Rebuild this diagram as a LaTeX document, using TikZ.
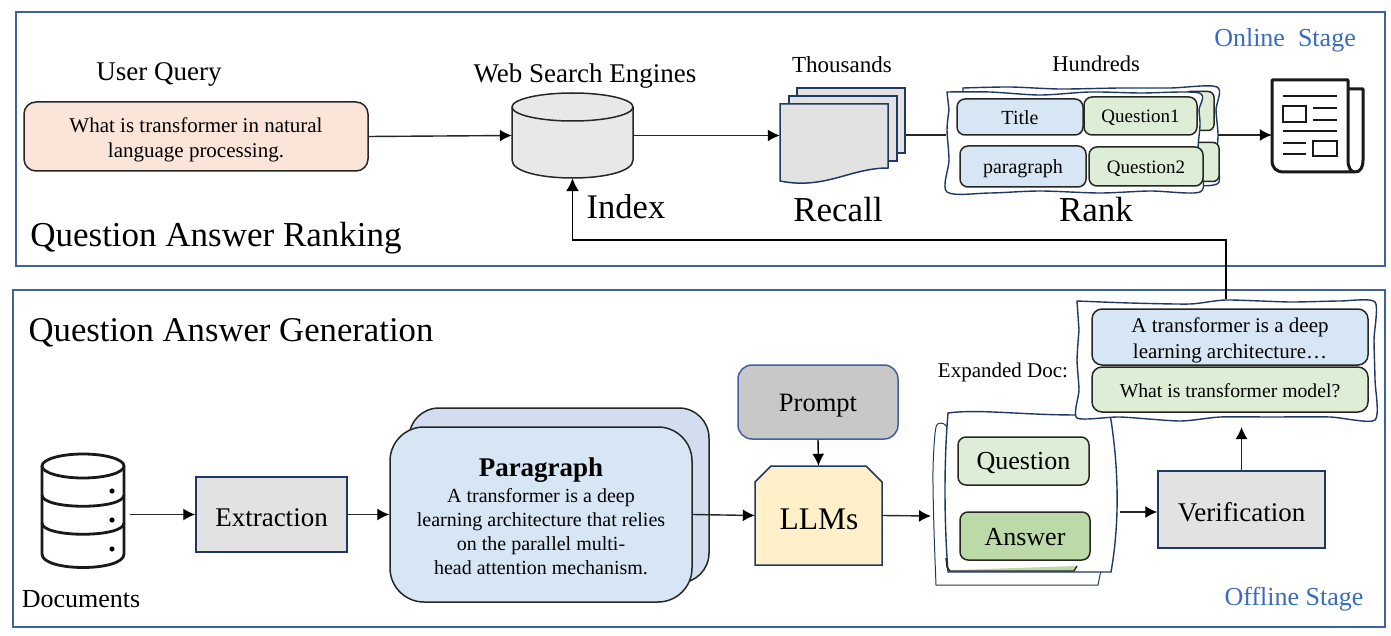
\documentclass[tikz,border=0pt]{standalone}
\usepackage{fontspec}
\setmainfont{Liberation Serif}
\usetikzlibrary{arrows.meta}
\definecolor{frameblue}{HTML}{3F619F}
\definecolor{navy}{HTML}{1F3864}
\definecolor{stagetxt}{HTML}{3A6BBF}
\definecolor{lblue}{HTML}{D7E6F4}
\definecolor{lgreen}{HTML}{DEEDD5}
\definecolor{mgreen}{HTML}{BBDAA8}
\definecolor{lgray}{HTML}{E2E2E2}
\definecolor{mgray}{HTML}{C8C8C8}
\definecolor{peach}{HTML}{FBE4D8}
\definecolor{lyellow}{HTML}{FFF0C9}
\definecolor{backblue}{HTML}{D2DEEF}
\newcommand{\dn}[2][2.2pt]{\raisebox{-#1}[\height][\depth]{#2}}
\tikzset{
  fs/.style={font=\fontsize{#1}{#1}\selectfont\setlength{\baselineskip}{1.18\baselineskip}},
  lab/.style={inner sep=0pt,align=center,text=black},
  rb/.style={rounded corners=#1,draw=black!85,line width=1.5pt},
  bx/.style args={#1x#2}{minimum width=#1pt,minimum height=#2pt,inner sep=0pt,align=center},
  frame/.style={draw=frameblue,line width=1.5pt},
  sq/.style={draw=navy,line width=1.5pt,fill=lgray},
  wob/.style={draw=navy,line width=1.4pt,fill=white},
  arr/.style={draw=black!85,line width=1.4pt,-{Latex[length=12pt,width=12pt,black]}},
  ic/.style={draw=black!90,line width=2.6pt},
}
\begin{document}
\begin{tikzpicture}[x=1pt,y=-1pt]
\useasboundingbox (0,0) rectangle (1391,636);
\fill[white] (0,0) rectangle (1391,636);
% frames
\node[frame,bx=1369x254] (top) at (700.5,139) {};
\node[frame,bx=1372x337] (bottom) at (699,458.5) {};
\node[lab,fs=26,text=stagetxt] (online) at (1285,40) {Online\ \ Stage};
\node[lab,fs=26,text=stagetxt] (offline) at (1294,599) {Offline Stage};
\node[lab,fs=35] (qar) at (216,238) {Question Answer Ranking};
\node[lab,fs=34.7] (qag) at (231,333) {Question Answer Generation};
% query
\node[lab,fs=27] (uq) at (159,74) {User Query};
\node[bx=344x69,rb=12pt,fill=peach] (query) at (196,136.5) {};
\node[lab,fs=21] (querytxt) at (196,140) {What is transformer in natural\\language processing.};
% search
\node[lab,fs=27] (wse) at (585,76) {Web Search Engines};
\node[bx=121x85] (cyl) at (572.5,135.5) {};
\draw[fill=lgray!80!white,draw=black!85,line width=1.5pt] (512,107) -- (512,160) .. controls (512,184) and (633,184) .. (633,160) -- (633,107);
\draw[fill=lgray!80!white,draw=black!85,line width=1.5pt] (572.5,107) ellipse[x radius=60.5,y radius=14];
\node[lab,fs=34.5] (index) at (626,207) {Index};
% recall
\node[lab,fs=23] (thou) at (842,65) {Thousands};
\node[lab,fs=35] (recall) at (838,210) {Recall};
\node[sq,bx=108x65] (d3) at (851,120.5) {};
\node[sq,bx=108x65] (d2) at (843,128.5) {};
\node[bx=108x80] (d1) at (834,135.5) {};
\draw[sq] (780,104) -- (888,104) -- (888,168) .. controls (850,168) and (825,190) .. (780,181) -- cycle;
% rank
\node[lab,fs=22.5] (hund) at (1096,64) {Hundreds};
\node[lab,fs=35] (rank) at (1096,210) {Rank};
\draw[wob] plot[smooth,tension=.5] coordinates {(963,88) (1010,87) (1060,89) (1120,88) (1170,88) (1217,87) (1216,110) (1218,135) (1216,160) (1217,184) (1170,185) (1100,186) (1020,185) (963,185)} -- cycle;
\node[bx=30x39,rb=6pt,fill=lgreen] (bg1) at (1199,111) {};
\node[bx=30x39,rb=6pt,fill=lgreen] (bg2) at (1204,162) {};
\draw[wob] plot[smooth,tension=.5] coordinates {(947,92) (990,92) (1040,95) (1090,92) (1140,93) (1199,93) (1199,110) (1200,125) (1198,150) (1201,170) (1200,192) (1150,191) (1100,193) (1040,191) (990,193) (947,192) (949,160) (947,130) (949,110)} -- cycle;
\node[bx=126x36,rb=8pt,fill=lblue,fs=20] (title) at (1020,117) {\dn[1pt]{Title}};
\node[bx=113x38,rb=8pt,fill=lgreen,fs=19] (q1) at (1140.5,116) {\dn{Question1}};
\node[bx=126x41,rb=8pt,fill=lblue,fs=20] (para) at (1023,166.5) {\dn{paragraph}};
\node[bx=114x39,rb=8pt,fill=lgreen,fs=19] (q2) at (1146,166.5) {\dn{Question2}};
\node[bx=254x100] (rankbox) at (1073,135) {};
\node[bx=272x100] (rankboxb) at (1082,135) {};
% news icon
\node[bx=76x92] (news) at (1310,135) {};
\draw[ic,line width=3pt,line join=round,fill=white] (1348,89) -- (1363,89) -- (1363,160) .. controls (1363,168) and (1360,172) .. (1355,172) -- (1284,172) .. controls (1276,172) and (1272,168) .. (1272,160) -- (1272,80) -- (1348,80) -- (1348,160) .. controls (1348,168) and (1351,172) .. (1355,172);
\draw[ic] (1283,96) -- (1337,96) (1313,108) -- (1337,108) (1313,120) -- (1337,120) (1283,131) -- (1337,131) (1283,143) -- (1306,143) (1283,154) -- (1306,154);
\draw[ic] (1283,106) rectangle (1306,122);
\draw[ic] (1313,141) rectangle (1337,156);
% top connectors
\draw[arr] (query.east) -- (cyl.west);
\draw[arr] (cyl.east) -- (d1.west);
\draw[draw=black!85,line width=1.4pt] (d3.east |- rankbox.west) -- (rankbox.west);
\draw[arr] (rankboxb.east) -- (news.west);
% docs
\node[bx=82x111] (docs) at (83,511) {};
\begin{scope}[ic,line width=2.8pt]
\draw (42,466) -- (42,554) .. controls (42,572) and (124,572) .. (124,554) -- (124,466);
\draw (83,466) ellipse[x radius=41,y radius=12];
\draw (42,495) .. controls (42,510) and (124,510) .. (124,495);
\draw (42,523) .. controls (42,538) and (124,538) .. (124,523);
\fill (112,491) circle[radius=2.6] (112,520) circle[radius=2.6] (112,549) circle[radius=2.6];
\end{scope}
\node[lab,fs=26] (doclab) at (81,599) {Documents};
\node[sq,bx=151x75,fs=27] (ext) at (271.5,514.5) {\dn[3pt]{Extraction}};
\node[bx=300x175,rb=30pt,fill=backblue] (pback) at (559,495.5) {};
\node[bx=302x175,rb=34pt,fill=lblue] (pfront) at (541,514.5) {};
\node[lab,fs=20] (ptxt) at (541,516) {{\fontsize{27}{28}\selectfont\bfseries Paragraph}\\[2.5pt]A transformer is a deep\\[.5pt]learning architecture that relies\\[.5pt]on the parallel multi-\\[.5pt]head attention mechanism.};
\node[bx=160x74,rounded corners=14pt,draw=frameblue,line width=1.5pt,fill=mgray,fs=26.5] (prompt) at (818,402) {\dn[3.5pt]{Prompt}};
\node[bx=127x99] (llm) at (818.5,515.5) {};
\draw[draw=navy,line width=1.5pt,fill=lyellow] (755,482) -- (771,466) -- (866,466) -- (882,482) -- (882,565) -- (755,565) -- cycle;
\node[lab,fs=31.5] (llmt) at (819,519) {LLMs};
% QA doc
\draw[wob,line width=1pt] plot[smooth,tension=.5] coordinates {(944,424) (936,427) (933,470) (934,530) (936,585)} -- (936,585) -- (1098,585) -- (1101,570) -- cycle;
\draw[wob] (948,413) .. controls (985,408) and (1040,418) .. (1110,414) .. controls (1116,450) and (1122,510) .. (1111,572) -- (948,572) .. controls (944,520) and (944,460) .. (948,413) -- cycle;
\fill[mgreen] (955,570) -- (1077,566) -- (1074,571) -- cycle;
\draw[black!85,line width=1.4pt] (946,558) -- (947,567) -- (950,571) -- (1074,571) -- (1077,566);
\node[bx=131x48,rb=8pt,fill=lgreen,fs=26] (ques) at (1023.5,461) {\dn{Question}};
\node[bx=130x48,rb=8pt,fill=mgreen,fs=26] (ans) at (1025,536) {\dn[1.5pt]{Answer}};
\node[sq,bx=167x77,fs=27] (ver) at (1241.5,509.5) {\dn{Verification}};
\node[lab,fs=21] (expl) at (1003,372) {Expanded Doc:};
\draw[wob] plot[smooth,tension=.4] coordinates {(1077,301) (1130,303) (1190,304) (1226,300) (1290,302) (1340,301) (1375,302) (1374,340) (1375,380) (1375,420) (1330,417) (1270,417) (1220,417) (1180,421) (1120,417) (1077,418) (1079,390) (1077,360) (1079,330)} -- cycle;
\node[bx=276x56,rb=10pt,fill=lblue] (ed1) at (1230,337) {};
\node[lab,fs=21] (ed1txt) at (1230,340) {A transformer is a deep\\[1pt]learning architecture…};
\node[bx=276x45,rb=10pt,fill=lgreen,fs=19.7] (ed2) at (1230,389.5) {\dn[1.5pt]{What is transformer model?}};
% bottom connectors
\coordinate (docr) at (130,514.5);
\coordinate (arrtip) at (1241.5,427);
\coordinate (ret0) at (1226,299);
\coordinate (ret1) at (572.5,240);
\coordinate (qae) at (1120,512);
\coordinate (qai) at (931,516);
\draw[arr] (docr) -- (ext.west);
\draw[arr] (ext.east) -- (pfront.west);
\draw[arr] (pfront.east) -- (llm.west);
\draw[arr,black] (prompt.south) -- (llm.north);
\draw[arr] (llm.east) -- (qai);
\draw[arr] (qae) -- (ver.west |- qae);
\draw[arr] (ver.north) -- (arrtip);
\draw[draw=black,line width=1.4pt,-{Latex[length=13pt,width=13pt]}] (ret0) |- (ret1) -- (cyl.south);
\end{tikzpicture}
\end{document}
